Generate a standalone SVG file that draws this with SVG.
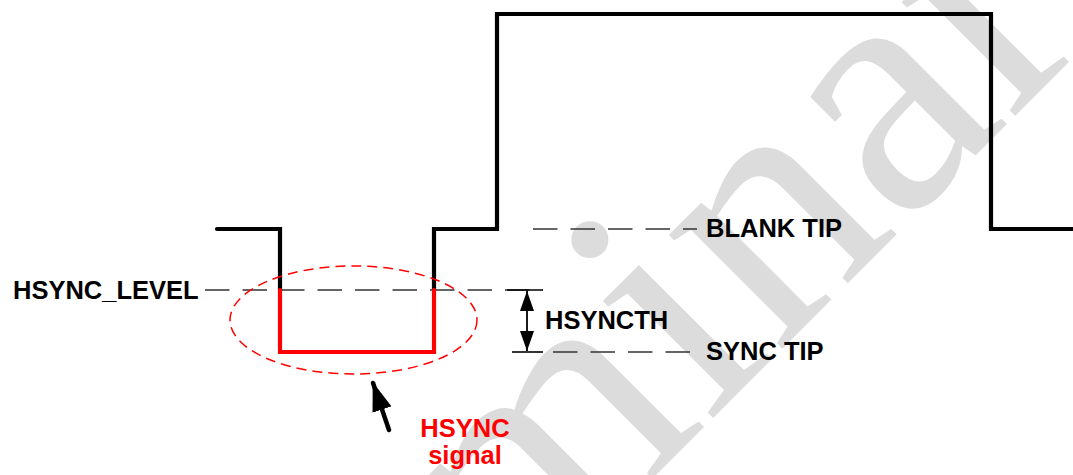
<svg xmlns="http://www.w3.org/2000/svg" width="1073" height="475" viewBox="0 0 1073 475">
  <style>
    .lbl { font-family: "Liberation Sans", Arial, sans-serif; font-weight: bold; font-size: 25.5px; fill: #000; }
    .red { fill: #ff0000; }
    .dash { stroke: #333; stroke-width: 1.6; fill: none; stroke-dasharray: 24.5 13; }
    .ext { stroke: #000; stroke-width: 1.6; fill: none; }
    .wave { fill: none; stroke-width: 4.2; stroke-linejoin: miter; stroke-linecap: round; }
    .wm { font-family: "Liberation Serif", "Times New Roman", serif; font-size: 350px; fill: #dcdcdc; }
  </style>
  <defs>
    <marker id="dimArrow" markerUnits="userSpaceOnUse" markerWidth="20" markerHeight="14" refX="20" refY="7" orient="auto-start-reverse">
      <path d="M0,0 L20,7 L0,14 z" fill="#000"/>
    </marker>
    <marker id="ptrArrow" markerUnits="userSpaceOnUse" markerWidth="29" markerHeight="20" refX="28" refY="10" orient="auto">
      <path d="M0,0 L29,10 L0,20 z" fill="#000"/>
    </marker>
  </defs>
  <rect width="1073" height="475" fill="#fff"/>

  <g id="watermark">
    <text class="wm" x="48" y="1083" transform="rotate(-45 48 1083)">Preliminary</text>
  </g>

  <g id="connectors">
    <line class="dash" x1="205" y1="290" x2="543" y2="290"/>
    <line class="dash" x1="533" y1="229" x2="697" y2="229"/>
    <line class="dash" x1="553" y1="352" x2="697" y2="352"/>
    <line class="ext" x1="507" y1="290" x2="543" y2="290"/>
    <line class="ext" x1="512" y1="352" x2="543" y2="352"/>
    <line x1="527" y1="291" x2="527" y2="351" stroke="#000" stroke-width="1.8" marker-start="url(#dimArrow)" marker-end="url(#dimArrow)"/>
    <line x1="389" y1="430" x2="373" y2="383" stroke="#000" stroke-width="4.5" stroke-linecap="round" marker-end="url(#ptrArrow)"/>
  </g>

  <g id="waveform">
    <path class="wave" stroke="#000" d="M217,229 H280 V290"/>
    <path class="wave" stroke="#000" d="M434,290 V229 H497 V14 H991 V229 H1073"/>
  </g>

  <g id="hsync-pulse">
    <path class="wave" stroke="#ff0000" d="M280,290 V352 H434 V290"/>
    <ellipse cx="353.5" cy="320" rx="123.5" ry="54" fill="none" stroke="#ff0000" stroke-width="1.5" stroke-dasharray="10 6"/>
  </g>

  <g id="label-hsync-level">
    <text class="lbl" x="13" y="299">HSYNC_LEVEL</text>
  </g>
  <g id="label-blank-tip">
    <text class="lbl" x="706" y="237">BLANK TIP</text>
  </g>
  <g id="label-hsyncth">
    <text class="lbl" x="545" y="329">HSYNCTH</text>
  </g>
  <g id="label-sync-tip">
    <text class="lbl" x="706" y="360">SYNC TIP</text>
  </g>
  <g id="label-hsync-signal">
    <text class="lbl red" x="465" y="437" text-anchor="middle">HSYNC</text>
    <text class="lbl red" x="465" y="464" text-anchor="middle">signal</text>
  </g>
</svg>
